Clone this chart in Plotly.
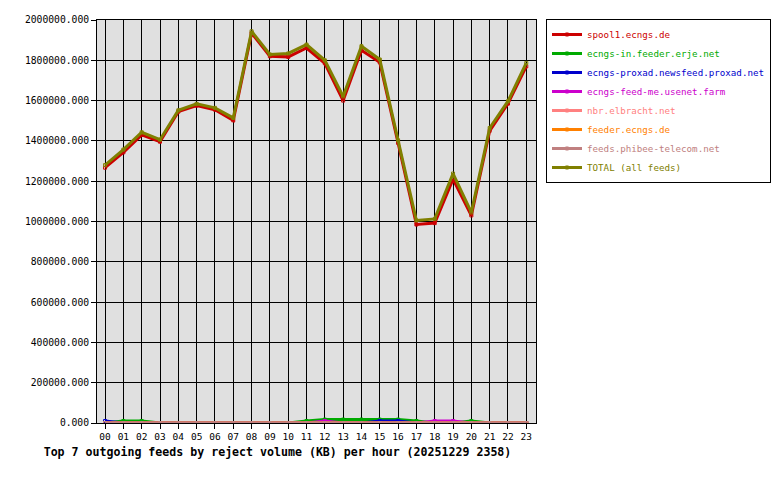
import plotly.graph_objects as go

hours = ["%02d" % h for h in range(24)]

spool1 = [1267000, 1343000, 1430000, 1396000, 1545000, 1575000, 1555000, 1502000,
          1935000, 1820000, 1817000, 1861000, 1785000, 1600000, 1850000, 1790000,
          1390000, 985000, 992000, 1210000, 1030000, 1450000, 1585000, 1770000]
erje = [0, 10000, 10000, 0, 0, 0, 0, 0, 0, 0, 0, 10000,
        17000, 17000, 17000, 17000, 17000, 10000, 0, 0, 10000, 0, 0, 0]
proxad = [10000, 0, 0, 0, 0, 0, 0, 0, 0, 0, 0, 0,
          0, 0, 0, 10000, 10000, 0, 0, 0, 0, 0, 0, 0]
feedme = [0, 0, 0, 0, 0, 0, 0, 0, 0, 0, 0, 0,
          10000, 0, 0, 0, 0, 0, 10000, 10000, 0, 0, 0, 0]
nbr = [0] * 24
feeder = [0] * 24
phibee = [0] * 24
total = [1280000, 1357000, 1443000, 1406000, 1552000, 1584000, 1564000, 1514000,
         1944000, 1829000, 1834000, 1878000, 1800000, 1621000, 1870000, 1804000,
         1403000, 1005000, 1013000, 1238000, 1045000, 1464000, 1597000, 1787000]

names = ["spool1.ecngs.de", "ecngs-in.feeder.erje.net", "ecngs-proxad.newsfeed.proxad.net",
         "ecngs-feed-me.usenet.farm", "nbr.elbracht.net", "feeder.ecngs.de",
         "feeds.phibee-telecom.net", "TOTAL (all feeds)"]
series = [spool1, erje, proxad, feedme, nbr, feeder, phibee, total]
colors = ["#cc0000", "#00aa00", "#0000cc", "#cc00cc", "#ff8080", "#ff8000", "#c08080", "#808000"]

fig = go.Figure()
for name, vals, col in zip(names, series, colors):
    fig.add_trace(go.Scatter(
        x=hours, y=vals, mode="lines+markers",
        name="<span style='color:%s'>%s</span>" % (col, name),
        line=dict(color=col, width=3),
        marker=dict(symbol="square-open", size=3, color=col, line=dict(width=1, color=col)),
    ))

mono = "DejaVu Sans Mono"
fig.update_layout(
    width=780, height=480,
    margin=dict(l=97, r=244, t=20, b=57, autoexpand=False),
    paper_bgcolor="white",
    plot_bgcolor="#e0e0e0",
    font=dict(family=mono, size=10, color="black"),
    showlegend=True,
    legend=dict(
        x=(546 - 97) / 439, y=1.0025, xanchor="left", yanchor="top",
        bgcolor="white", bordercolor="black", borderwidth=1,
        font=dict(family=mono, size=9.2),
        itemwidth=30, tracegroupgap=0,
    ),
    title=dict(
        text="<b>Top 7 outgoing feeds by reject volume (KB) per hour (20251229 2358)</b>",
        xref="container", yref="container",
        x=277.5 / 780, y=1 - 452 / 480, xanchor="center", yanchor="middle",
        font=dict(family=mono, size=11.6, color="black"),
    ),
)
fig.update_xaxes(
    type="category", range=[-0.44, 23.53],
    showgrid=True, gridcolor="black", gridwidth=1,
    showline=True, linecolor="black", linewidth=1, mirror=True,
    ticks="outside", ticklen=5, tickcolor="black",
    tickfont=dict(family=mono, size=9.5, color="black"),
    zeroline=False, automargin=False,
)
fig.update_yaxes(
    range=[0, 2000000], dtick=200000, tickformat=".3f",
    showgrid=True, gridcolor="black", gridwidth=1,
    showline=True, linecolor="black", linewidth=1, mirror=True,
    ticks="outside", ticklen=5, tickcolor="black",
    tickfont=dict(family=mono, size=9.7, color="black"),
    zeroline=False, automargin=False,
)

fig.write_html("out.html", config={"displayModeBar": False},
               post_script="document.body.style.margin='0';")
